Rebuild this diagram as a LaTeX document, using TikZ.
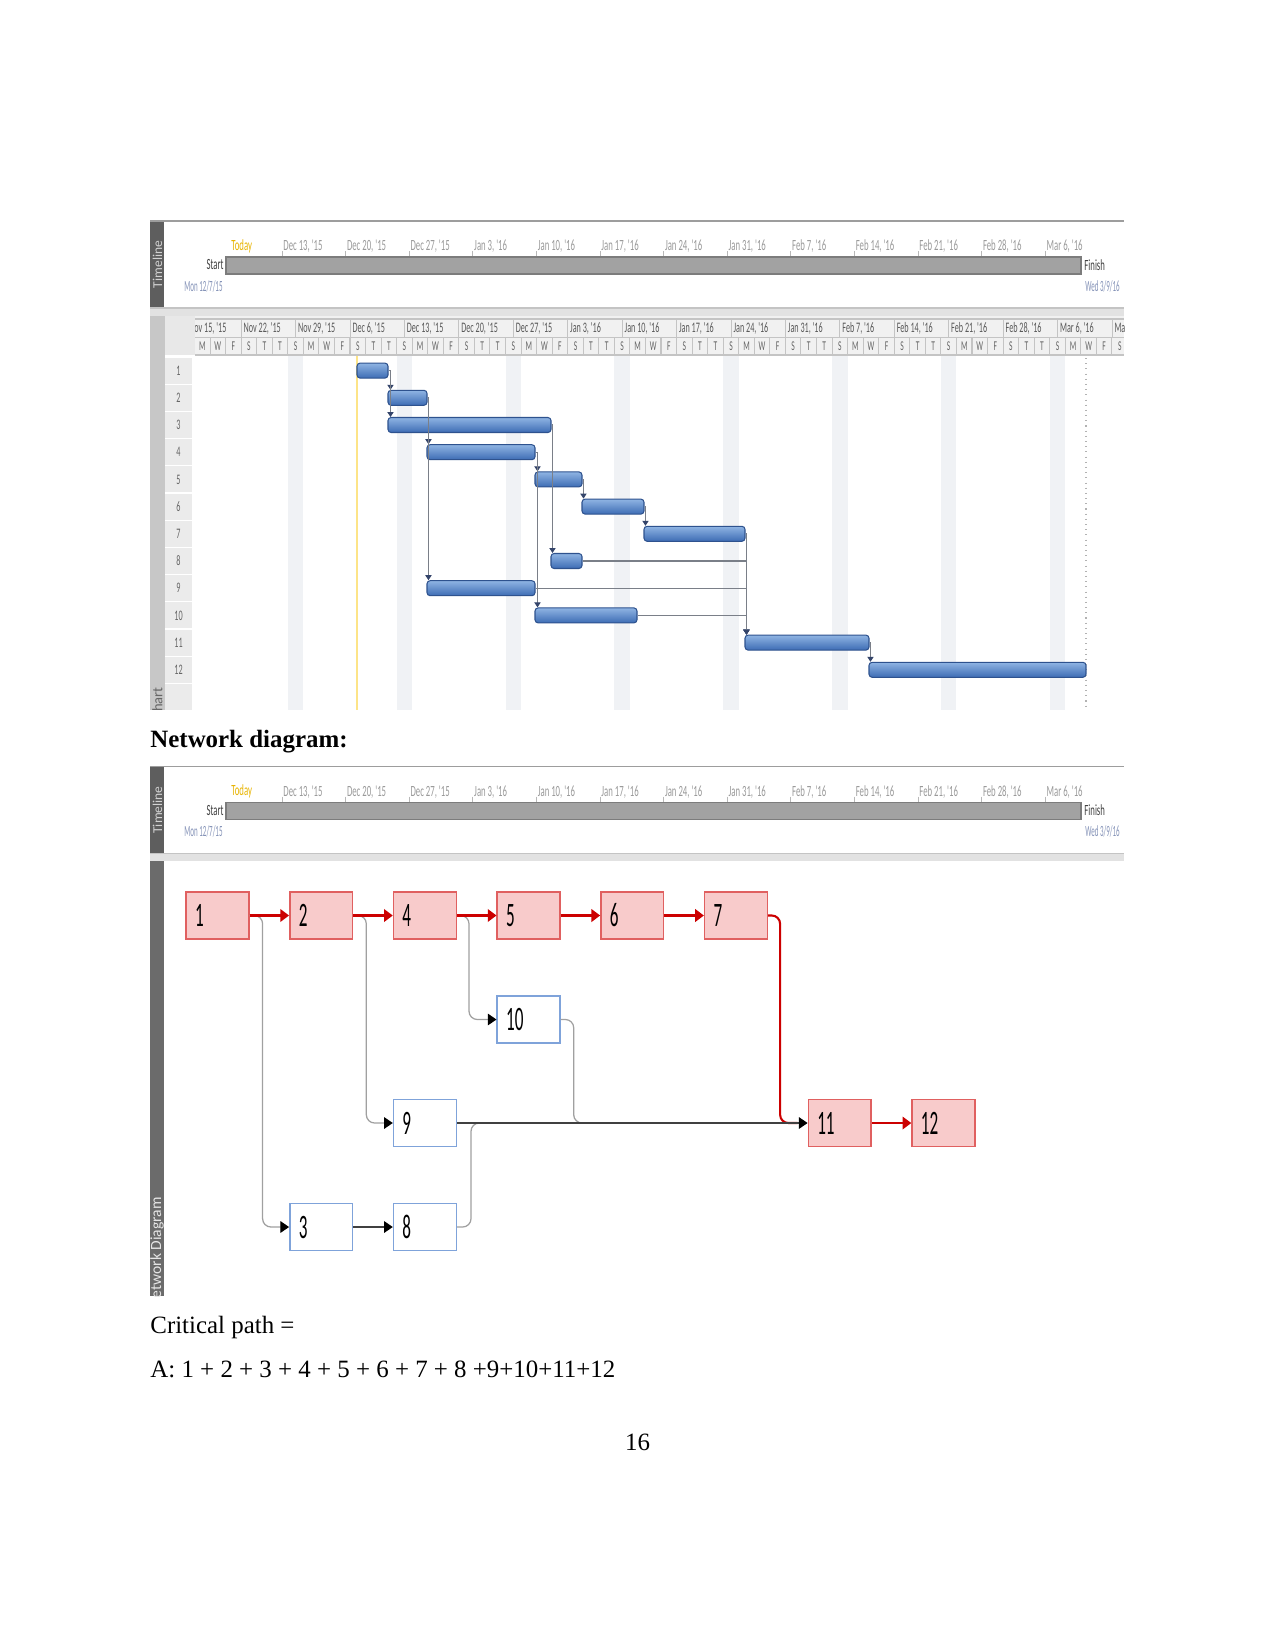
\documentclass[tikz,border=0pt]{standalone}
\usepackage{fontspec}
\setmainfont{Liberation Serif}
\newfontfamily\uifont{Carlito}
\usetikzlibrary{arrows.meta,calc,fit}
\newcommand\sq[1]{\scalebox{0.56}[1]{#1}}
\newcommand\sqd[1]{\scalebox{0.45}[1]{#1}}
\newcommand\nq[1]{\scalebox{0.5}[1]{#1}}
\newcommand\tlf{\uifont\fontsize{7.5}{8}\selectfont}
\newcommand\hdf{\uifont\fontsize{7}{7.5}\selectfont}
\definecolor{tlbar}{HTML}{5E5E5E}
\definecolor{tltext}{HTML}{9A9A9A}
\definecolor{todayc}{HTML}{E8B400}
\definecolor{datec}{HTML}{8593B8}
\definecolor{barfill}{HTML}{A2A2A2}
\definecolor{barline}{HTML}{7C7C7C}
\definecolor{bandc}{HTML}{E2E2E2}
\definecolor{hdrfill}{HTML}{F1F1F1}
\definecolor{hdrline}{HTML}{C4C4C4}
\definecolor{stripec}{HTML}{F0F2F5}
\definecolor{gtop}{HTML}{8FB4E3}
\definecolor{gbot}{HTML}{3D6CB4}
\definecolor{gedge}{HTML}{2E528E}
\definecolor{glinec}{HTML}{7A7F88}
\definecolor{gtip}{HTML}{34446A}
\definecolor{critf}{HTML}{F8CBCB}
\definecolor{critb}{HTML}{E06060}
\definecolor{critl}{HTML}{CC0000}
\definecolor{normb}{HTML}{7FA3DA}
\definecolor{connc}{HTML}{A0A0A0}
\newcommand\drawtimeline[1]{%
  \fill[tlbar] (150,221) rectangle (164,308);
  \node[rotate=90, font=\uifont\fontsize{6.5}{7}\selectfont, text=white!65!gray] (#1side) at (157.5,264.5) {Timeline};
  \draw[hdrline!80!black, line width=0.9pt] (150,221) -- (1124,221);
  \node[anchor=west, inner sep=0, font=\tlf, text=todayc] (#1today) at (231,246) {\sq{Today}};
  \foreach \lab [count=\k from 0] in {{Dec 13, '15},{Dec 20, '15},{Dec 27, '15},{Jan 3, '16},{Jan 10, '16},{Jan 17, '16},{Jan 24, '16},{Jan 31, '16},{Feb 7, '16},{Feb 14, '16},{Feb 21, '16},{Feb 28, '16},{Mar 6, '16}} {
    \draw[tltext!70!white, line width=0.4pt] ({282+63.6*\k},251) -- ({282+63.6*\k},257);
    \node[anchor=west, inner sep=0, font=\tlf, text=tltext] (#1w\k) at ({283+63.6*\k},246.5) {\sq{\lab}};
  }
  \node[fill=barfill, draw=barline, line width=0.6pt, inner sep=0, fit={(226,257)(1081,274)}] (#1bar) {};
  \node[anchor=east, inner sep=0, font=\tlf, text=black!75] (#1start) at (224,265) {\sq{Start}};
  \node[anchor=west, inner sep=0, font=\tlf, text=black!75] (#1finish) at (1084,265) {\sq{Finish}};
  \node[anchor=east, inner sep=0, font=\tlf, text=datec] (#1sdate) at (223,286) {\sqd{Mon 12/7/15}};
  \node[anchor=west, inner sep=0, font=\tlf, text=datec] (#1fdate) at (1085,286) {\sqd{Wed 3/9/16}};
  \fill[bandc] (150,308) rectangle (1124,316);
  \draw[hdrline, line width=0.6pt] (150,308) -- (1124,308);
}
\begin{document}
\begin{tikzpicture}[x=0.169333mm, y=-0.169333mm,
  gbar/.style={draw=gedge, top color=gtop, bottom color=gbot, line width=0.5pt, rounded corners=1.5pt, inner sep=0pt},
  gcon/.style={draw=glinec, line width=0.5pt, -{Triangle[length=2.4pt,width=3pt,color=gtip]}},
  rowhdr/.style={fill=black!8, minimum width=12.96pt, minimum height=12.6pt, inner sep=0pt, font=\hdf, text=black!60},
  nbox/.style={minimum width=30.24pt, minimum height=22.56pt, inner xsep=4.3pt, inner ysep=0pt, text width=21.6pt, align=left, font=\uifont\fontsize{16.5}{17}\selectfont, line width=0.7pt},
  crit/.style={nbox, draw=critb, fill=critf},
  norm/.style={nbox, draw=normb, fill=white},
  critarrow/.style={draw=critl, line width=1pt, -{Triangle[length=4.2pt,width=6pt,color=critl]}},
  conarrow/.style={draw=connc, line width=0.6pt, rounded corners=4pt, -{Triangle[length=4.2pt,width=5.6pt,color=black]}},
  darkarrow/.style={draw=black!75, line width=0.6pt, -{Triangle[length=4.2pt,width=5.6pt,color=black]}},
  conline/.style={draw=connc, line width=0.6pt, rounded corners=4pt},
  bodytext/.style={inner sep=0pt, font=\fontsize{12}{14}\selectfont}]
\fill[white] (0,0) rectangle (1275,1650);
\useasboundingbox (0,0) rectangle (1275,1650);

% ================= Gantt screenshot =================
\drawtimeline{a}
% left bar of Gantt section
\fill[black!22] (150,316) rectangle (165,710);
\begin{scope}
  \clip (150,316) rectangle (165,710);
  \node[rotate=90, anchor=east, inner sep=0, font=\uifont\fontsize{7}{7}\selectfont, text=black!60] (gside) at (157.5,687) {Gantt Chart};
\end{scope}
% header
\fill[black!9] (165,316) rectangle (195,355);
\fill[hdrfill] (195,316) rectangle (1124,355);
\draw[hdrline, line width=0.5pt] (195,319) -- (1124,319);
\draw[hdrline, line width=0.5pt] (195,337.5) -- (1124,337.5);
\draw[hdrline, line width=0.5pt] (195,355) -- (1124,355);
\begin{scope}
  \clip (195,316) rectangle (1124,356);
  \foreach \lab [count=\n from 0] in {{Nov 15, '15},{Nov 22, '15},{Nov 29, '15},{Dec 6, '15},{Dec 13, '15},{Dec 20, '15},{Dec 27, '15},{Jan 3, '16},{Jan 10, '16},{Jan 17, '16},{Jan 24, '16},{Jan 31, '16},{Feb 7, '16},{Feb 14, '16},{Feb 21, '16},{Feb 28, '16},{Mar 6, '16},{Mar 13, '16}} {
    \draw[hdrline, line width=0.5pt] ({186.77+54.43*\n},319) -- ({186.77+54.43*\n},337.5);
    \node[anchor=west, inner sep=0, font=\hdf, text=black!65] (wk\n) at ({188.8+54.43*\n},328.5) {\sq{\lab}};
  }
  \foreach \r in {0,...,8} {
    \foreach \l [count=\c from 0] in {M,W,F,S,T,T,S} {
      \draw[hdrline, line width=0.5pt] ({194.5+15.55*(7*\r+\c)},337.5) -- ({194.5+15.55*(7*\r+\c)},355);
      \node[inner sep=0, font=\uifont\fontsize{6.5}{7}\selectfont, text=black!60] (d\r-\c) at ({202.3+15.55*(7*\r+\c)},346.5) {\sq{\l}};
    }
  }
\end{scope}
% row headers
\foreach \i in {1,...,12} {
  \node[rowhdr] (r\i) at (178.5,{370.6+27.2*(\i-1)}) {\sq{\i}};
}
\fill[black!8] (165,683.5) rectangle (192,710);
% non-working stripes
\foreach \j in {0,...,7} {
  \fill[stripec] ({194.5+15.55*(6+7*\j)},356) rectangle +(15.55,354);
}
% today line and finish line
\draw[yellow!60!orange!45!white, line width=0.6pt] (357,356) -- (357,710);
\draw[black!30, line width=0.5pt, dotted] (1086,358) -- (1086,710);
% bars
\foreach \i/\a/\b in {1/357/388, 2/388/427, 3/388/551, 4/427/535, 5/535/582, 6/582/644, 7/644/745, 8/551/582, 9/427/535, 10/535/637, 11/745/869, 12/869/1086} {
  \pgfmathsetmacro\yt{370.6+27.2*(\i-1)-7.5}
  \pgfmathsetmacro\yb{370.6+27.2*(\i-1)+7.5}
  \node[gbar, fit={(\a,\yt)(\b,\yb)}] (b\i) {};
}
% gantt links
\draw[gcon] (b1.east) -| ($(b2.north west)+(3,0)$);
\draw[gcon] (b1.east) -| ($(b3.north west)+(3,0)$);
\draw[gcon] (b2.east) -| ($(b4.north west)+(2,0)$);
\draw[gcon] (b2.east) -| ($(b9.north west)+(2,0)$);
\draw[gcon] (b3.east) -| ($(b8.north west)+(2,0)$);
\draw[gcon] (b4.east) -| ($(b5.north west)+(3,0)$);
\draw[gcon] (b4.east) -| ($(b10.north west)+(3,0)$);
\draw[gcon] (b5.east) -| ($(b6.north west)+(2,0)$);
\draw[gcon] (b6.east) -| ($(b7.north west)+(2,0)$);
\draw[gcon] (b7.east) -| ($(b11.north west)+(2,0)$);
\draw[gcon] (b8.east) -| ($(b11.north west)+(2,0)$);
\draw[gcon] (b9.east) -| ($(b11.north west)+(2,0)$);
\draw[gcon] (b10.east) -| ($(b11.north west)+(2,0)$);
\draw[gcon] (b11.east) -| ($(b12.north west)+(2,0)$);

% ================= heading =================
\node[bodytext, anchor=base west, font=\bfseries\fontsize{12}{14}\selectfont] (head) at (150,747) {Network diagram:};

% ================= Network screenshot =================
\begin{scope}[shift={(0,545.5)}]
  \drawtimeline{b}
\end{scope}
\fill[white] (150,861) rectangle (1124,1296);
\fill[black!58] (150,861) rectangle (164,1296);
\begin{scope}
  \clip (150,861) rectangle (164,1296);
  \node[rotate=90, anchor=east, inner sep=0, font=\uifont\fontsize{7.5}{8}\selectfont, text=white!80!gray] (nside) at (157,1197) {Network Diagram};
\end{scope}
% nodes
\node[crit] (n1) at (217.5,915.5) {\nq{1}};
\node[crit] (n2) at (321.2,915.5) {\nq{2}};
\node[crit] (n4) at (424.9,915.5) {\nq{4}};
\node[crit] (n5) at (528.6,915.5) {\nq{5}};
\node[crit] (n6) at (632.3,915.5) {\nq{6}};
\node[crit] (n7) at (736,915.5) {\nq{7}};
\node[norm] (n10) at (528.6,1019.5) {\nq{10}};
\node[norm] (n9) at (424.9,1123) {\nq{9}};
\node[crit] (n11) at (839.7,1123) {\nq{11}};
\node[crit] (n12) at (943.4,1123) {\nq{12}};
\node[norm] (n3) at (321.2,1227) {\nq{3}};
\node[norm] (n8) at (424.9,1227) {\nq{8}};
% non-critical links
\draw[conarrow] (n1.east) -- ++(13,0) |- (n3.west);
\draw[conarrow] (n2.east) -- ++(13,0) |- (n9.west);
\draw[conarrow] (n4.east) -- ++(12,0) |- (n10.west);
\draw[conline] (n8.east) -- ++(14,0) |- ($(n9.east)+(26,0)$);
\draw[conline] (n10.east) -- ++(13,0) |- ($(n9.east)+(122,0)$);
% critical links
\draw[critarrow] (n1) -- (n2);
\draw[critarrow] (n2) -- (n4);
\draw[critarrow] (n4) -- (n5);
\draw[critarrow] (n5) -- (n6);
\draw[critarrow] (n6) -- (n7);
\draw[critl, line width=1pt, rounded corners=4pt] (n7.east) -- ++(12,0) |- ($(n11.west)+(-10,0)$);
\draw[critarrow] (n11) -- (n12);
\draw[darkarrow] (n3) -- (n8);
\draw[darkarrow] (n9) -- (n11);

% ================= text below =================
\node[bodytext, anchor=base west] (cp) at (150,1333) {Critical path =};
\node[bodytext, anchor=base west] (ans) at (150,1377) {A: 1 + 2 + 3 + 4 + 5 + 6 + 7 + 8 +9+10+11+12};
\node[bodytext, anchor=base] (pg) at (637.5,1450) {16};
\end{tikzpicture}
\end{document}
